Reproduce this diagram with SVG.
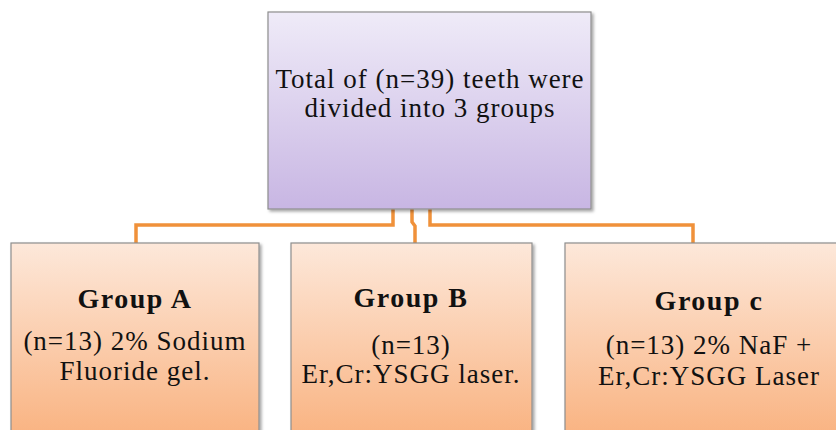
<svg xmlns="http://www.w3.org/2000/svg" width="836" height="430" viewBox="0 0 836 430">
<defs>
<linearGradient id="gPurple" x1="0" y1="0" x2="0" y2="1">
<stop offset="0" stop-color="#EFEBF8"/>
<stop offset="1" stop-color="#C8B6E3"/>
</linearGradient>
<linearGradient id="gOrange" x1="0" y1="0" x2="0" y2="1">
<stop offset="0" stop-color="#FDE8DA"/>
<stop offset="1" stop-color="#F9B17E"/>
</linearGradient>
<filter id="sh" x="-5%" y="-5%" width="115%" height="115%">
<feDropShadow dx="2" dy="2" stdDeviation="1.5" flood-color="#000" flood-opacity="0.35"/>
</filter>
</defs>
<style>
.box{stroke:#8E8E8E;stroke-width:1.2;filter:url(#sh)}
.top{fill:url(#gPurple)}
.grp{fill:url(#gOrange)}
text{font-family:'Liberation Serif','Times New Roman',serif;font-size:27px;letter-spacing:1px;fill:#111;text-anchor:middle}
.b{font-weight:bold;font-size:28px;letter-spacing:1.5px}
.conn{fill:none;stroke:#F0913A;stroke-width:3.5}
</style>
<rect width="836" height="430" fill="#fff"/>
<g id="connectors">
<path class="conn" d="M393,209 V225 H136 V243"/>
<path class="conn" d="M412,209 V222 L415,226 V243"/>
<path class="conn" d="M430,209 V225 H693 V243"/>
</g>
<g id="top">
<rect class="box top" x="268" y="12" width="323" height="197"/>
<text x="430" y="88">Total of (n=39) teeth were</text>
<text x="430" y="117">divided into 3 groups</text>
</g>
<g id="groupA">
<rect class="box grp" x="11" y="243" width="248" height="200"/>
<text class="b" x="135" y="308">Group A</text>
<text x="135" y="350">(n=13) 2% Sodium</text>
<text x="135" y="380">Fluoride gel.</text>
</g>
<g id="groupB">
<rect class="box grp" x="291" y="243" width="241" height="200"/>
<text class="b" x="411" y="307">Group B</text>
<text x="411" y="354">(n=13)</text>
<text x="411" y="383">Er,Cr:YSGG laser.</text>
</g>
<g id="groupC">
<rect class="box grp" x="565" y="243" width="288" height="200"/>
<text class="b" x="709" y="310">Group c</text>
<text x="709" y="354">(n=13) 2% NaF +</text>
<text x="709" y="385">Er,Cr:YSGG Laser</text>
</g>
</svg>
